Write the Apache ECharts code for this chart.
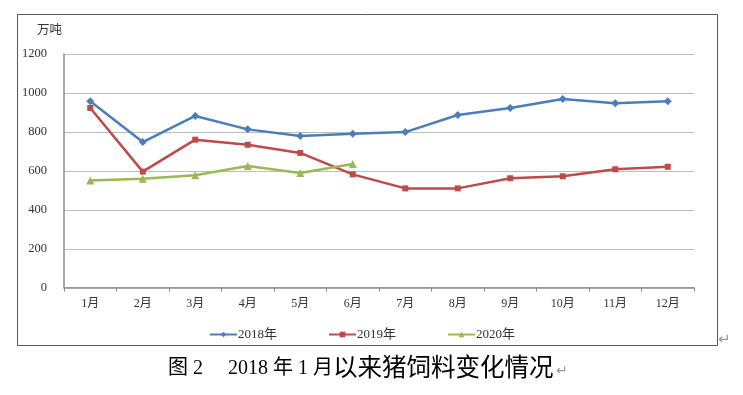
<!DOCTYPE html>
<html>
<head>
<meta charset="utf-8">
<script src="https://cdn.jsdelivr.net/npm/echarts@6/dist/echarts.min.js"></script>
<style>html,body{margin:0;padding:0;background:#fff;}#c{width:743px;height:395px;}</style>
</head>
<body>
<div id="c"></div>
<script>
const categories = ['1月','2月','3月','4月','5月','6月','7月','8月','9月','10月','11月','12月'];
const yTicks = [0, 200, 400, 600, 800, 1000, 1200];
const seriesNames = ['2018年','2019年','2020年'];
const data2018 = [957, 748, 882, 813, 779, 791, 799, 887, 923, 969, 947, 957];
const data2019 = [923, 596, 760, 734, 692, 582, 510, 510, 562, 572, 608, 621];
const data2020 = [551, 560, 577, 625, 589, 635];
const yUnit = '万吨';
const captionA = '图 2　 2018 年 1 月';
const captionB = '以来猪饲料变化情况';

const colors = ['#4a7ebb', '#be4b48', '#98b954'];
const symbols = ['diamond', 'rect', 'triangle'];
const symbolSizes = [8, 6, 8];
const allData = [data2018, data2019, data2020];
const font = "'Liberation Serif','Noto Sans CJK SC',serif";

const chart = echarts.init(document.getElementById('c'));
chart.setOption({
  animation: false,
  backgroundColor: '#fff',
  grid: { left: 64, right: 49, top: 54, bottom: 107.3, containLabel: false },
  xAxis: {
    type: 'category',
    data: categories,
    boundaryGap: true,
    axisLine: { lineStyle: { color: '#8c8c8c', width: 1.5 } },
    axisTick: { show: true, length: 4, lineStyle: { color: '#8c8c8c' } },
    axisLabel: { color: '#333', fontSize: 12, fontFamily: font, margin: 10 }
  },
  yAxis: {
    type: 'value',
    min: yTicks[0], max: yTicks[yTicks.length - 1], interval: 200,
    axisLine: { show: true, lineStyle: { color: '#8c8c8c', width: 1.5 } },
    axisTick: { show: false },
    axisLabel: { color: '#333', fontSize: 12.5, fontFamily: font, margin: 17, formatter: v => String(v) },
    splitLine: { lineStyle: { color: '#bdbdbd', width: 1 } }
  },
  legend: {
    left: 204, top: 323,
    itemWidth: 27, itemHeight: 7, itemGap: 51,
    textStyle: { color: '#333', fontSize: 13, fontFamily: font, padding: [0,0,0,-4] },
    data: seriesNames
  },
  series: seriesNames.map((n, i) => ({
    name: n,
    type: 'line',
    data: allData[i],
    symbol: symbols[i],
    symbolSize: symbolSizes[i],
    showAllSymbol: true,
    lineStyle: { color: colors[i], width: 2.5 },
    itemStyle: { color: colors[i] }
  })),
  graphic: [
    { type: 'rect', shape: { x: 17.5, y: 14.5, width: 700, height: 331 }, style: { fill: 'none', stroke: '#5a5a5a', lineWidth: 1 }, z: -1 },
    { type: 'text', left: 37, top: 23, style: { text: yUnit, fill: '#333', font: "12.5px 'Noto Sans CJK SC'" } },
    { type: 'text', left: 168, top: 359, style: { text: captionA, fill: '#000', font: "20px 'Liberation Serif','Noto Sans CJK SC'" } },
    { type: 'text', left: 333, top: 354, style: { text: captionB, fill: '#000', font: "24.5px 'Noto Sans CJK SC'" } },
    { type: 'text', left: 556, top: 364, style: { text: '↵', fill: '#999', font: "14px 'DejaVu Sans'" } },
    { type: 'text', left: 718, top: 333, style: { text: '↵', fill: '#999', font: "15px 'DejaVu Sans'" } }
  ]
});
</script>
</body>
</html>
